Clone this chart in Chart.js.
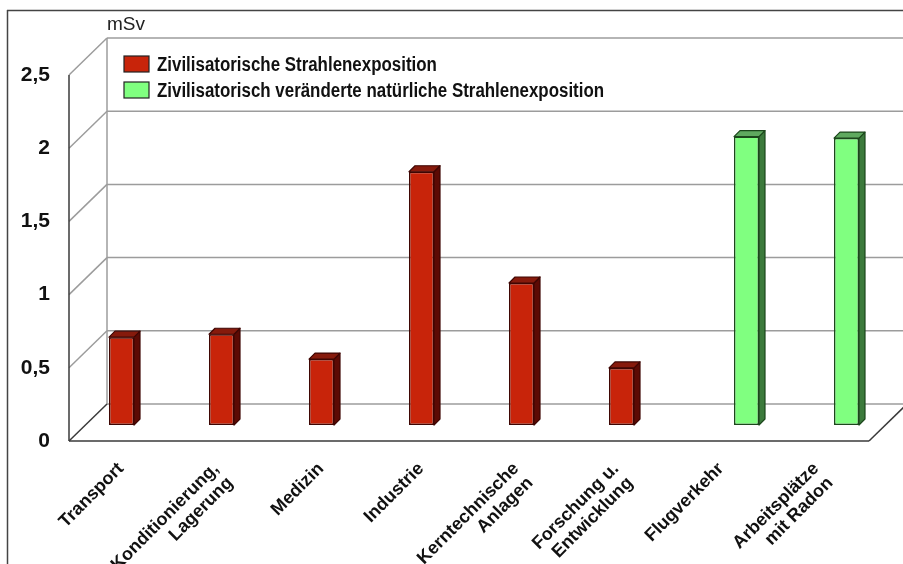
<!DOCTYPE html>
<html lang="de">
<head>
<meta charset="utf-8">
<title>Strahlenexposition</title>
<script src="https://cdn.jsdelivr.net/npm/chart.js@4/dist/chart.umd.min.js"></script>
<style>
  html, body { margin: 0; padding: 0; background: #fff; }
  #box { position: relative; width: 903px; height: 564px; }
</style>
</head>
<body>
<div id="box"><canvas id="grafico"></canvas></div>
<script>
/* ================= DADOS ================= */
const kategorien = [
  "Transport",
  ["Konditionierung,", "Lagerung"],
  "Medizin",
  "Industrie",
  ["Kerntechnische", "Anlagen"],
  ["Forschung u.", "Entwicklung"],
  "Flugverkehr",
  ["Arbeitsplätze", "mit Radon"]
];
const zivilisatorisch = [0.60, 0.62, 0.45, 1.73, 0.97, 0.39, null, null];
const natuerlichVeraendert = [null, null, null, null, null, null, 1.97, 1.96];
const serienNamen = [
  "Zivilisatorische Strahlenexposition",
  "Zivilisatorisch veränderte natürliche Strahlenexposition"
];
const yTicks = [0, 0.5, 1, 1.5, 2, 2.5];
const einheit = "mSv";

/* ================= ESTILO ================= */
const FONTE = "'Liberation Sans', Arial, sans-serif";
const cores = [
  { frente: "#c8240a", lado: "#5c0a04", topo: "#861a0c", borda: "#3e0603" },
  { frente: "#80ff80", lado: "#3c7a3c", topo: "#5fa95f", borda: "#1c471c" }
];
// deslocamento do plano frontal e da parede de fundo em relação ao plano das barras
const VORNE = { dx: -15, dy: 16 };
const HINTEN = { dx: 23, dy: -21 };
const TIEFE = 6;     // profundidade das barras
const ZEILE = 20;    // distância entre linhas dos rótulos

function linha(ctx, x1, y1, x2, y2) {
  ctx.beginPath();
  ctx.moveTo(x1, y1);
  ctx.lineTo(x2, y2);
  ctx.stroke();
}

function poligono(ctx, pts, fill) {
  ctx.beginPath();
  ctx.moveTo(pts[0][0], pts[0][1]);
  for (let i = 1; i < pts.length; i++) ctx.lineTo(pts[i][0], pts[i][1]);
  ctx.closePath();
  ctx.fillStyle = fill;
  ctx.fill();
  ctx.stroke();
}

/* ================= PLUGIN 3D ================= */
const kulisse = {
  id: "kulisse",

  // moldura externa, paredes e grade
  beforeDatasetsDraw(chart) {
    const { ctx, chartArea: a, scales: { y } } = chart;
    const y0 = y.getPixelForValue(0);
    const yTop = y.getPixelForValue(y.max);

    ctx.save();
    ctx.lineWidth = 1.5;
    ctx.strokeStyle = "#444";
    linha(ctx, 7, 10.5, chart.width, 10.5);
    linha(ctx, 7.5, 10, 7.5, chart.height);

    ctx.strokeStyle = "#9c9c9c";
    y.ticks.forEach(t => {
      const py = y.getPixelForValue(t.value);
      linha(ctx, a.left + HINTEN.dx, py + HINTEN.dy, chart.width + 5, py + HINTEN.dy);
      if (t.value !== 0) {
        linha(ctx, a.left + VORNE.dx, py + VORNE.dy, a.left + HINTEN.dx, py + HINTEN.dy);
      }
    });
    linha(ctx, a.left + HINTEN.dx, y0 + HINTEN.dy, a.left + HINTEN.dx, yTop + HINTEN.dy);

    ctx.strokeStyle = "#3a3a3a";
    linha(ctx, a.left + VORNE.dx, y0 + VORNE.dy, a.left + VORNE.dx, yTop + VORNE.dy);
    linha(ctx, a.left + VORNE.dx, y0 + VORNE.dy, a.left + HINTEN.dx, y0 + HINTEN.dy);
    linha(ctx, a.left + VORNE.dx, y0 + VORNE.dy, a.right + VORNE.dx, y0 + VORNE.dy);
    linha(ctx, a.right + VORNE.dx, y0 + VORNE.dy, a.right + HINTEN.dx, y0 + HINTEN.dy);
    ctx.restore();
  },

  // faces lateral e superior de cada barra
  afterDatasetsDraw(chart) {
    const ctx = chart.ctx;
    ctx.save();
    ctx.lineWidth = 1.2;
    ctx.lineJoin = "round";
    chart.data.datasets.forEach((ds, di) => {
      const c = cores[di];
      ctx.strokeStyle = c.borda;
      chart.getDatasetMeta(di).data.forEach((bar, i) => {
        if (ds.data[i] === null) return;
        const { x, y, base, width } = bar.getProps(["x", "y", "base", "width"], true);
        const l = x - width / 2, r = x + width / 2;
        poligono(ctx, [[r, y], [r + TIEFE, y - TIEFE], [r + TIEFE, base - TIEFE], [r, base]], c.lado);
        poligono(ctx, [[l, y], [l + TIEFE, y - TIEFE], [r + TIEFE, y - TIEFE], [r, y]], c.topo);
      });
    });
    ctx.restore();
  },

  // rótulos das categorias, legenda e unidade
  afterDraw(chart) {
    const { ctx, scales: { x, y } } = chart;
    const y0 = y.getPixelForValue(0);

    ctx.save();
    ctx.fillStyle = "#111";
    ctx.font = "bold 18px " + FONTE;
    ctx.textAlign = "right";
    ctx.textBaseline = "middle";
    const s = Math.SQRT1_2;
    chart.data.labels.forEach((lab, i) => {
      const zeilen = Array.isArray(lab) ? lab : [lab];
      const cx = x.getPixelForValue(i);
      const bx = cx - 13 - (zeilen.length > 1 ? 5 : 0);
      const by = y0 + VORNE.dy + 25;
      zeilen.forEach((z, j) => {
        ctx.save();
        ctx.translate(bx + j * ZEILE * s, by + j * ZEILE * s);
        ctx.rotate(-Math.PI / 4);
        ctx.fillText(z, 0, 0);
        ctx.restore();
      });
    });

    // legenda
    ctx.textAlign = "left";
    ctx.textBaseline = "alphabetic";
    ctx.font = "bold 20px " + FONTE;
    chart.data.datasets.forEach((ds, di) => {
      const top = 56 + di * 26;
      ctx.fillStyle = cores[di].frente;
      ctx.strokeStyle = "#222";
      ctx.lineWidth = 1.2;
      ctx.fillRect(124, top, 25, 16);
      ctx.strokeRect(124, top, 25, 16);
      ctx.fillStyle = "#111";
      ctx.save();
      ctx.translate(157, top + 15);
      ctx.scale(0.845, 1);
      ctx.fillText(ds.label, 0, 0);
      ctx.restore();
    });

    ctx.font = "19px " + FONTE;
    ctx.fillStyle = "#222";
    ctx.fillText(einheit, 107, 30);
    ctx.restore();
  }
};

/* ================= GRÁFICO ================= */
new Chart(document.getElementById("grafico"), {
  type: "bar",
  data: {
    labels: kategorien,
    datasets: [zivilisatorisch, natuerlichVeraendert].map((valores, di) => ({
      label: serienNamen[di],
      data: valores,
      backgroundColor: cores[di].frente,
      borderColor: cores[di].borda,
      borderWidth: 1.5,
      borderSkipped: false,
      categoryPercentage: 0.5,
      barPercentage: 1
    }))
  },
  options: {
    responsive: true,
    maintainAspectRatio: false,
    animation: false,
    layout: { padding: { top: 59, right: 19, bottom: 0, left: 0 } },
    plugins: { legend: { display: false }, tooltip: { enabled: false } },
    scales: {
      x: {
        grid: { display: false, drawTicks: false },
        border: { display: false },
        ticks: { display: false },
        afterFit: s => { s.height = 139; }
      },
      y: {
        min: 0,
        max: 2.5,
        grid: { display: false, drawTicks: false },
        border: { display: false },
        afterBuildTicks: s => { s.ticks = yTicks.map(v => ({ value: v })); },
        afterFit: s => { s.width = 84; },
        ticks: {
          padding: 34,
          labelOffset: VORNE.dy,
          color: "#111",
          font: { family: FONTE, size: 21, weight: "bold" },
          callback: v => String(v).replace(".", ",")
        }
      }
    }
  },
  plugins: [kulisse]
});
</script>
</body>
</html>
